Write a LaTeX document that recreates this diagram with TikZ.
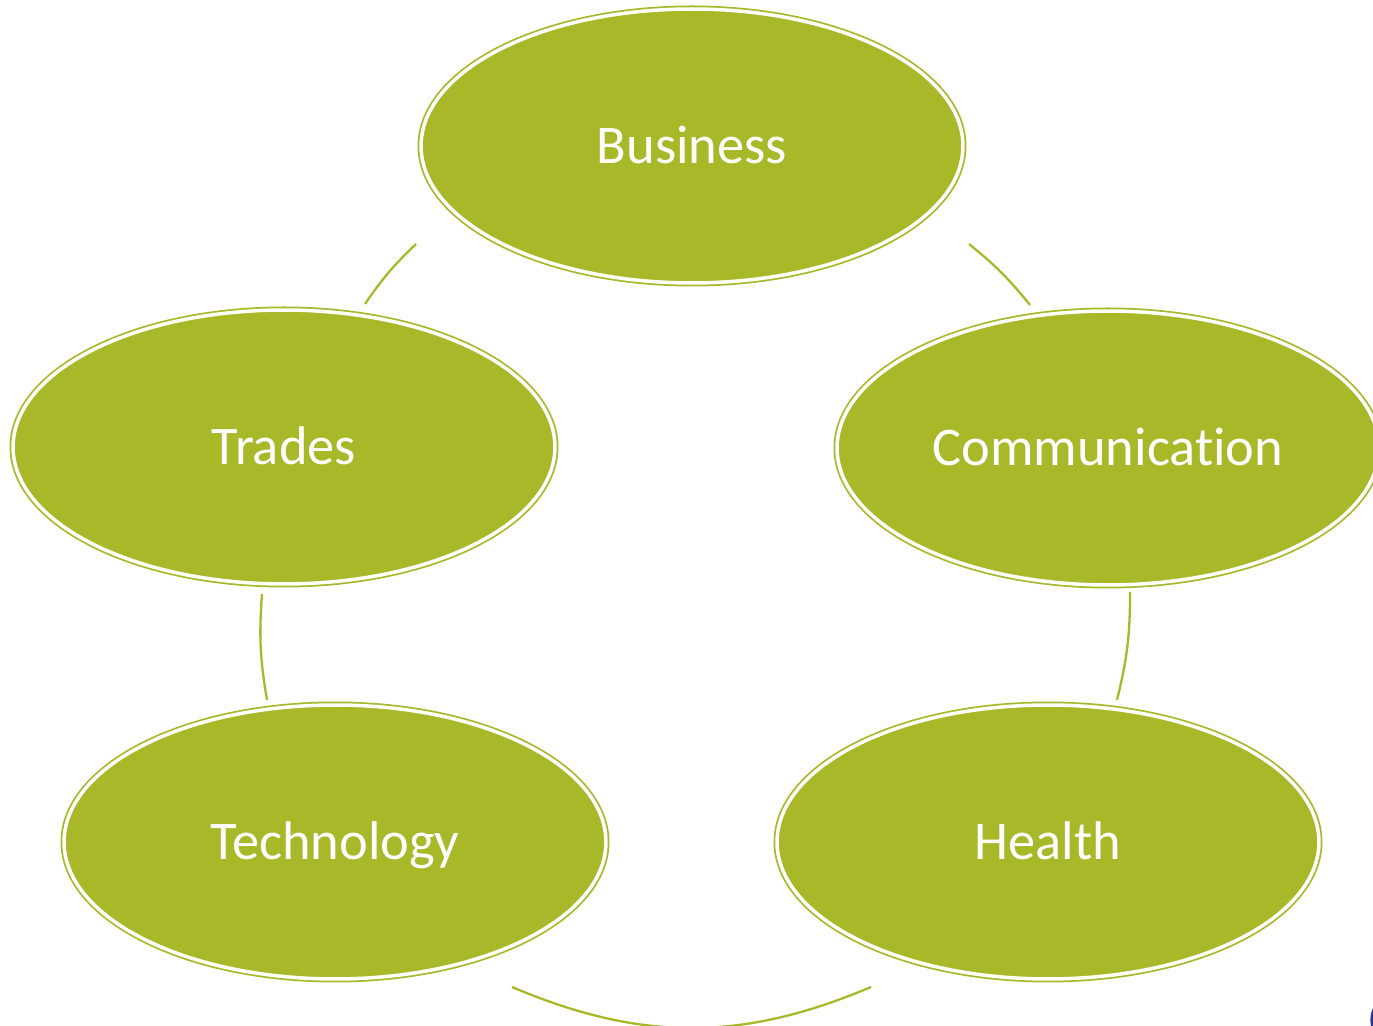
\documentclass[tikz,border=0pt]{standalone}
\usepackage{fontspec}
\setmainfont[Ligatures=NoCommon]{Carlito}
\usetikzlibrary{shapes.geometric}
\definecolor{leafgreen}{RGB}{168,184,41}
\definecolor{cornerblue}{RGB}{40,52,150}
\begin{document}
\begin{tikzpicture}[x=0.02cm,y=0.02cm]
\tikzstyle{area}=[ellipse, draw=leafgreen, double=white, double distance=2pt, line width=1pt, fill=leafgreen, minimum width=10.84cm, minimum height=5.48cm, inner sep=0pt, text=white, font=\fontsize{31}{36}\selectfont, text height=20pt, text depth=0pt]
\tikzstyle{link}=[draw=leafgreen, line width=1.3pt]

\useasboundingbox (0,0) rectangle (1373,1026);

% Define areas
\node[area] (business) at (692,880) {Business};
\node[area] (trades) at (284,579) {Trades};
\node[area] (communication) at (1108,578) {Communication};
\node[area] (technology) at (335,184) {Technology};
\node[area] (health) at (1048,184) {Health};

% Ends of the cycle arcs
\coordinate (bt1) at (416,782);
\coordinate (bt2) at (365,722);
\coordinate (tt1) at (262,432);
\coordinate (tt2) at (267,326);
\coordinate (th1) at (512,39);
\coordinate (th2) at (871,39);
\coordinate (hc1) at (1117,326);
\coordinate (hc2) at (1130,434);
\coordinate (cb1) at (1030,721);
\coordinate (cb2) at (969,782);

% Draw cycle arcs
\draw[link] (bt1) to[bend right=6] (bt2);
\draw[link] (tt1) to[bend right=7] (tt2);
\draw[link] (th1) to[bend right=23] (th2);
\draw[link] (hc1) to[bend right=7] (hc2);
\draw[link] (cb1) to[bend right=6] (cb2);

% Corner mark
\draw[cornerblue, line width=3pt] (1388,6) ellipse (0.3cm and 0.4cm);
\end{tikzpicture}
\end{document}
